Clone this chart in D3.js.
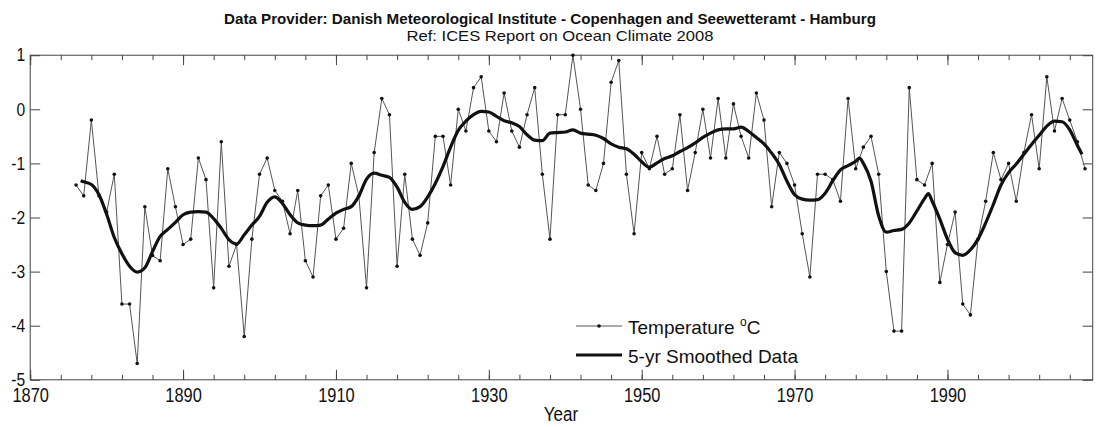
<!DOCTYPE html>
<html><head><meta charset="utf-8">
<script src="https://cdn.jsdelivr.net/npm/d3@7"></script>
<style>
html,body{margin:0;padding:0;background:#fff;}
svg{display:block;font-family:"Liberation Sans",Arial,sans-serif;}
</style></head>
<body>
<svg id="chart" width="1100" height="427"></svg>
<script>
const titleText = "Data Provider: Danish Meteorological Institute - Copenhagen and Seewetteramt - Hamburg";
const subtitleText = "Ref: ICES Report on Ocean Climate 2008";
const xLabel = "Year";
const xMajorTicks = [1870, 1890, 1910, 1930, 1950, 1970, 1990];
const yTicks = [1, 0, -1, -2, -3, -4, -5];

const years = d3.range(1876, 2009);
const temperature = [
 -1.4,-1.6,-0.2,-1.6,-1.9,-1.2,-3.6,-3.6,-4.7,-1.8,
 -2.7,-2.8,-1.1,-1.8,-2.5,-2.4,-0.9,-1.3,-3.3,-0.6,
 -2.9,-2.5,-4.2,-2.4,-1.2,-0.9,-1.5,-1.7,-2.3,-1.5,
 -2.8,-3.1,-1.6,-1.4,-2.4,-2.2,-1.0,-1.6,-3.3,-0.8,
 0.2,-0.1,-2.9,-1.2,-2.4,-2.7,-2.1,-0.5,-0.5,-1.4,
 0.0,-0.4,0.4,0.6,-0.4,-0.6,0.3,-0.4,-0.7,-0.1,
 0.4,-1.2,-2.4,-0.1,-0.1,1.0,0.0,-1.4,-1.5,-1.0,
 0.5,0.9,-1.2,-2.3,-0.8,-1.1,-0.5,-1.2,-1.1,-0.1,
 -1.5,-0.8,0.0,-0.9,0.2,-0.9,0.1,-0.5,-0.9,0.3,
 -0.2,-1.8,-0.8,-1.0,-1.4,-2.3,-3.1,-1.2,-1.2,-1.3,
 -1.7,0.2,-1.1,-0.7,-0.5,-1.2,-3.0,-4.1,-4.1,0.4,
 -1.3,-1.4,-1.0,-3.2,-2.5,-1.9,-3.6,-3.8,-2.4,-1.7,
 -0.8,-1.3,-1.0,-1.7,-0.8,-0.1,-1.1,0.6,-0.4,0.2,
 -0.2,-0.6,-1.1
];

const smoothYears = [1876.6].concat(d3.range(1877, 1979), [1978.5], d3.range(1979, 1988), [1987.5], d3.range(1988, 2008), [2007.6]);
const smoothed = [
 -1.32,
 -1.34,-1.39,-1.58,-1.94,-2.37,-2.67,-2.90,-3.01,-2.93,-2.63,
 -2.35,-2.22,-2.09,-1.95,-1.90,-1.89,-1.90,-2.02,-2.20,-2.41,
 -2.49,-2.32,-2.14,-1.98,-1.72,-1.62,-1.74,-1.95,-2.10,-2.14,
 -2.15,-2.14,-2.03,-1.92,-1.85,-1.80,-1.60,-1.29,-1.18,-1.22,
 -1.26,-1.44,-1.72,-1.85,-1.80,-1.62,-1.37,-1.06,-0.70,-0.39,
 -0.22,-0.10,-0.04,-0.05,-0.13,-0.21,-0.25,-0.32,-0.47,-0.57,
 -0.58,-0.44,-0.43,-0.42,-0.38,-0.44,-0.46,-0.48,-0.54,-0.64,
 -0.70,-0.73,-0.83,-0.97,-1.07,-0.99,-0.91,-0.86,-0.78,-0.71,
 -0.62,-0.52,-0.44,-0.38,-0.36,-0.36,-0.33,-0.41,-0.52,-0.64,
 -0.81,-1.02,-1.33,-1.58,-1.66,-1.68,-1.67,-1.55,-1.32,-1.12,
 -1.04,-0.96,
 -0.90,
 -1.00,-1.33,-1.97,-2.27,-2.24,-2.22,-2.10,-1.88,-1.65,
 -1.56,
 -1.70,-2.03,-2.40,-2.65,-2.70,-2.60,-2.40,-2.10,-1.76,-1.40,
 -1.17,-1.01,-0.83,-0.65,-0.48,-0.31,-0.22,-0.23,-0.38,-0.67,
 -0.83
];

const legendLabels = ["Temperature ", "5-yr Smoothed Data"];

const svg = d3.select("#chart");
const L = 30.2, R = 1092.7, T = 55.2, B = 379.8;
const x = d3.scaleLinear().domain([1870, 2009]).range([L, R]);
const y = d3.scaleLinear().domain([-5, 1]).range([B, T]);
const frameColor = "#444";

function condense(sel, factor) {
  sel.each(function() {
    const len = this.getComputedTextLength();
    d3.select(this).attr("textLength", len * factor).attr("lengthAdjust", "spacingAndGlyphs");
  });
}

// titles
svg.append("text").attr("x", 550).attr("y", 24).attr("text-anchor", "middle")
  .attr("font-size", 15).attr("font-weight", "bold").attr("fill", "#111")
  .attr("textLength", 652).attr("lengthAdjust", "spacingAndGlyphs").text(titleText);
svg.append("text").attr("x", 560).attr("y", 41).attr("text-anchor", "middle")
  .attr("font-size", 15).attr("fill", "#111")
  .attr("textLength", 307).attr("lengthAdjust", "spacingAndGlyphs").text(subtitleText);

const minorTicks = d3.range(1870, 2009, 4);

function styleAxis(g) {
  g.select(".domain").remove();
  g.selectAll(".tick line").attr("stroke", frameColor).attr("stroke-width", 1);
}

// bottom axis
const gb = svg.append("g").attr("transform", `translate(0,${B})`)
  .call(d3.axisBottom(x).tickValues(minorTicks).tickSize(-5).tickFormat(""));
styleAxis(gb);
const gbM = svg.append("g").attr("transform", `translate(0,${B})`)
  .call(d3.axisBottom(x).tickValues(xMajorTicks).tickSize(-10).tickFormat(d => String(d)));
styleAxis(gbM);
gbM.selectAll(".tick text").attr("font-size", 20).attr("fill", "#111").attr("font-family", "Liberation Sans, Arial, sans-serif").attr("dy", 0).attr("y", 22);
condense(gbM.selectAll(".tick text"), 0.82);

// top axis
const gt = svg.append("g").attr("transform", `translate(0,${T})`)
  .call(d3.axisTop(x).tickValues(minorTicks).tickSize(-5).tickFormat(""));
styleAxis(gt);
const gtM = svg.append("g").attr("transform", `translate(0,${T})`)
  .call(d3.axisTop(x).tickValues(xMajorTicks).tickSize(-10).tickFormat(""));
styleAxis(gtM);

// left axis
const gl = svg.append("g").attr("transform", `translate(${L},0)`)
  .call(d3.axisLeft(y).tickValues(yTicks).tickSize(-10).tickFormat(d => String(d)));
styleAxis(gl);
gl.selectAll(".tick text").attr("font-size", 19).attr("fill", "#111").attr("font-family", "Liberation Sans, Arial, sans-serif").attr("x", -5).attr("dy", "0.3em");
condense(gl.selectAll(".tick text"), 0.82);

// right axis
const gr = svg.append("g").attr("transform", `translate(${R},0)`)
  .call(d3.axisRight(y).tickValues(yTicks).tickSize(-10).tickFormat(""));
styleAxis(gr);

// frame
svg.append("rect").attr("x", L).attr("y", T).attr("width", R - L).attr("height", B - T)
  .attr("fill", "none").attr("stroke", frameColor).attr("stroke-width", 1);

// x label
svg.append("text").attr("x", 561).attr("y", 421).attr("text-anchor", "middle")
  .attr("font-size", 20).attr("fill", "#111").text(xLabel)
  .call(condense, 0.85);

// temperature line
const tData = years.map((yr, i) => ({yr, v: temperature[i]}));
svg.append("path").datum(tData)
  .attr("fill", "none").attr("stroke", "#555").attr("stroke-width", 1)
  .attr("d", d3.line().x(d => x(d.yr)).y(d => y(d.v)));
svg.append("g").selectAll("circle").data(tData).join("circle")
  .attr("cx", d => x(d.yr)).attr("cy", d => y(d.v)).attr("r", 1.8).attr("fill", "#111");

// smoothed line
const sData = smoothYears.map((yr, i) => ({yr, v: smoothed[i]}));
svg.append("path").datum(sData)
  .attr("fill", "none").attr("stroke", "#111").attr("stroke-width", 3.2).attr("stroke-linejoin", "round")
  .attr("d", d3.line().x(d => x(d.yr)).y(d => y(d.v)).curve(d3.curveMonotoneX));

// legend
const lg = svg.append("g");
lg.append("line").attr("x1", 576).attr("x2", 622).attr("y1", 326).attr("y2", 326)
  .attr("stroke", "#555").attr("stroke-width", 1);
lg.append("circle").attr("cx", 599).attr("cy", 326).attr("r", 1.8).attr("fill", "#111");
const t1 = lg.append("text").attr("x", 628).attr("y", 334).attr("font-size", 19).attr("fill", "#111");
t1.append("tspan").text(legendLabels[0]);
t1.append("tspan").attr("font-size", 12).attr("dy", -8).text("o");
t1.append("tspan").attr("dy", 8).text("C");
lg.append("line").attr("x1", 576).attr("x2", 622).attr("y1", 355).attr("y2", 355)
  .attr("stroke", "#111").attr("stroke-width", 3.2);
lg.append("text").attr("x", 628).attr("y", 363).attr("font-size", 19).attr("fill", "#111").text(legendLabels[1]);
</script>
</body></html>
